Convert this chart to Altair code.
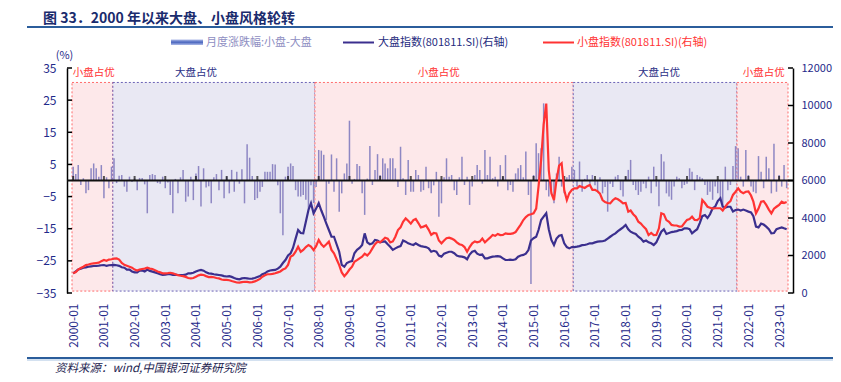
import altair as alt
import pandas as pd

# ---------------- data ----------------
months = [f"{y}-{m:02d}" for y in range(2000, 2024) for m in range(1, 13)][:280]

# 月度涨跌幅:小盘-大盘 (%)
spread = [
    4.3, 2.0, 4.8, -1.4, 0.7, -4.0, -3.0, 3.8, 5.3, 3.8, 1.2, 4.8,          # 2000
    -5.5, 1.0, -2.4, 4.3, 6.9, -0.8, 1.5, 1.7, -1.9, -3.5, 1.2, -0.5,       # 2001
    0.6, -3.0, 0.8, 0.8, -1.2, -10.2, 1.7, 2.0, 1.7, -0.8, -1.0, 1.2,       # 2002
    -2.4, -0.6, -4.5, -10.2, 0.5, -4.0, 1.0, 3.3, -6.6, -5.0, 1.2, -6.1,    # 2003
    2.2, 4.5, -8.1, 3.8, -2.2, -1.8, -7.1, 1.0, 2.0, -3.0, 3.3, -5.5,       # 2004
    1.2, -4.0, 3.3, -3.5, 2.7, -1.0, 3.5, -7.1, 11.3, 7.1, 1.4, -6.1,       # 2005
    -5.5, -3.5, -2.0, 2.7, 2.7, 2.7, 5.1, 5.0, -1.5, -10.2, -17.0, 1.2,     # 2006
    4.3, 5.3, 4.5, -3.0, -5.0, -5.0, -4.5, -6.0, -9.0, -1.5, -7.0, -2.0,    # 2007
    9.5, 9.3, 8.0, -12.3, -1.0, 8.1, -3.5, 6.9, -9.7, -4.0, 2.2, 5.3,       # 2008
    18.6, -1.0, 0.5, 5.1, 4.5, -4.0, -10.7, 0.6, 10.7, -1.4, 3.3, 8.2,      # 2009
    1.7, 6.9, 5.3, 3.8, 6.9, 6.9, 3.8, -2.0, 10.5, 0.7, -4.5, 6.4,          # 2010
    -3.5, -3.5, 3.3, 1.7, -3.5, -3.0, 4.3, -2.4, -4.0, -1.5, 2.7, -11.3,    # 2011
    -7.1, 1.0, 6.9, 1.2, 1.7, -3.0, -4.5, 1.0, 7.4, -1.4, 1.2, -7.6,        # 2012
    -1.9, 1.7, 4.8, 3.3, -1.0, 9.5, 1.7, 7.4, 0.7, 1.2, -1.9, 4.8,          # 2013
    1.2, 7.9, -3.0, -1.4, -3.5, 2.2, 3.8, 4.8, 1.0, 9.0, -4.5, -32.2,       # 2014
    1.7, 11.6, 8.5, 10.0, 24.0, -3.0, -5.0, -3.0, -7.1, 2.2, 7.4, -1.9,     # 2015
    -4.0, 1.0, 1.7, 4.3, 3.3, -1.9, 5.9, -3.5, 0.5, 1.7, -1.0, 1.7,         # 2016
    -1.5, -3.5, 1.0, -4.0, -2.0, -9.7, -1.0, -2.0, 1.2, 1.7, -3.0, -5.0,    # 2017
    1.2, 3.3, 6.4, -1.4, -3.0, -4.5, -3.5, -1.0, -2.4, 1.2, -4.0, 4.3,      # 2018
    -1.9, -8.0, 8.2, 5.9, -4.0, -5.0, -6.0, -1.9, 1.2, 0.7, -2.4, -1.4,     # 2019
    -1.0, 3.8, 2.7, -3.0, 1.7, 1.2, 0.7, -1.4, -4.5, -3.5, -6.0, -1.9,      # 2020
    -4.0, -5.6, -8.1, 4.3, -3.0, -1.4, 4.5, 10.7, 10.0, 1.2, -1.9, 9.5,     # 2021
    1.7, -1.9, -3.5, -4.0, 7.6, 2.7, -2.4, 7.4, 3.8, -4.0, 11.4, -3.5,      # 2022
    1.7, -1.9, 4.8, -2.4,                                                   # 2023
]

# 大盘指数(右轴)
large_index = [
    1050, 1150, 1250, 1300, 1350, 1370, 1400, 1420, 1440, 1450, 1460, 1480,
    1490, 1450, 1480, 1490, 1500, 1480, 1450, 1370, 1350, 1250, 1250, 1150,
    1100, 1100, 1190, 1200, 1150, 1250, 1180, 1140, 1100, 1050, 1000, 960,
    980, 1000, 1000, 970, 980, 960, 960, 950, 980, 1050, 1050, 1080,
    1150, 1200, 1230, 1190, 1100, 1050, 1030, 1000, 980, 960, 940, 900,
    880, 900, 860, 800, 750, 730, 780, 800, 780, 760, 770, 800,
    850, 900, 1000, 1050, 1150, 1200, 1220, 1230, 1300, 1400, 1600, 1760,
    2000, 2120, 2400, 2900, 3360, 3200, 3180, 3800, 4430, 4790, 4250, 4500,
    4790, 4400, 4070, 3700, 3360, 3000, 3000, 2600, 2200, 1500, 1400, 1600,
    1670, 1700, 2120, 2300, 2400, 2560, 3180, 2700, 2600, 2650, 2830, 2800,
    2700, 2740, 2750, 2600, 2470, 2300, 2380, 2450, 2500, 2800, 2740, 2650,
    2600, 2560, 2650, 2560, 2500, 2470, 2450, 2380, 2200, 2250, 2200, 2000,
    1940, 2100, 2150, 2200, 2200, 2120, 2000, 1950, 1940, 1900, 1800, 2050,
    2200, 2250, 2100, 2030, 2050, 1850, 1850, 1900, 1940, 1950, 1970, 1940,
    1850, 1760, 1760, 1780, 1760, 1800, 1940, 2000, 2030, 2100, 2290, 2800,
    2920, 3000, 3360, 3890, 4070, 4250, 3400, 2830, 2560, 2900, 3050, 3090,
    2650, 2450, 2380, 2450, 2450, 2470, 2500, 2550, 2560, 2600, 2650, 2650,
    2700, 2740, 2750, 2760, 2800, 2900, 3000, 3100, 3180, 3300, 3400, 3500,
    3630, 3400, 3270, 3200, 3150, 3000, 2900, 2740, 2800, 2700, 2650, 2560,
    2700, 3000, 3270, 3400, 3150, 3200, 3250, 3270, 3300, 3350, 3360, 3450,
    3450, 3400, 3180, 3300, 3400, 3730, 4100, 4160, 4000, 4200, 4520, 4600,
    4900, 5050, 4600, 4550, 4600, 4600, 4350, 4430, 4450, 4400, 4450, 4400,
    4340, 4300, 4100, 3540, 3500, 3700, 3650, 3540, 3400, 3180, 3200, 3400,
    3450, 3500, 3450, 3400,
]

# 小盘指数(右轴)
small_index = [
    1050, 1120, 1250, 1330, 1400, 1490, 1520, 1560, 1580, 1600, 1620, 1700,
    1760, 1720, 1780, 1800, 1830, 1850, 1780, 1600, 1500, 1450, 1400, 1350,
    1250, 1200, 1250, 1280, 1300, 1350, 1300, 1280, 1220, 1150, 1100, 1050,
    1050, 1060, 1080, 1050, 1000, 950, 920, 900, 860, 800, 780, 800,
    870, 940, 980, 960, 900, 850, 860, 840, 800, 780, 720, 700,
    700, 680, 640, 600, 560, 550, 580, 600, 590, 570, 580, 620,
    680, 750, 870, 950, 1000, 1000, 1020, 1050, 1100, 1150, 1250, 1310,
    1500, 1940, 2000, 2200, 2470, 2200, 2300, 2450, 2560, 2470, 2290, 2500,
    2830, 2600, 2470, 2600, 2740, 2300, 2120, 1800, 1490, 1100, 900, 1050,
    1250, 1400, 1670, 1750, 1850, 1940, 2100, 2000, 2150, 2380, 2600, 2740,
    2700, 2830, 2950, 2900, 2700, 2750, 3000, 3360, 3500, 3800, 3980, 3850,
    3700, 3890, 3950, 3730, 3500, 3540, 3600, 3380, 3100, 3200, 3180, 2800,
    2650, 2800, 2920, 2950, 2900, 2830, 2700, 2600, 2560, 2450, 2200, 2450,
    2650, 2750, 2700, 2740, 2900, 2700, 2830, 2950, 3090, 3050, 3150, 3090,
    3100, 3180, 3150, 3150, 3180, 3250, 3450, 3650, 3890, 4050, 4160, 4200,
    4250, 4500, 5670, 7090, 9000, 10100, 6560, 5320, 4960, 6030, 6800, 6920,
    5490, 4960, 5320, 5500, 5580, 5580, 5700, 5650, 5600, 5700, 5760, 5500,
    5500, 5420, 5300, 4960, 4850, 4800, 4780, 4950, 5050, 5000, 4900, 4780,
    4800, 4340, 4400, 4200, 4070, 3800, 3700, 3540, 3400, 3090, 3200, 3090,
    3100, 3450, 4250, 4200, 3890, 3800, 3630, 3600, 3600, 3540, 3550, 3730,
    3900, 3950, 4070, 3900, 3890, 4000, 4960, 4800, 4600, 4550, 4500, 4520,
    4520, 4520, 4400, 4600, 4780, 4900, 5230, 5400, 5580, 5400, 5320, 5400,
    5420, 5200, 4870, 4250, 4500, 4870, 4900, 4700, 4450, 4250, 4500, 4600,
    4700, 4870, 4800, 4850,
]

region_start = ["2000-01", "2001-05", "2007-12", "2016-05", "2021-09"]
region_end = ["2001-05", "2007-12", "2016-05", "2021-09", "2023-05"]
region_name = ["小盘占优", "大盘占优", "小盘占优", "大盘占优", "小盘占优"]
region_label_month = ["2000-09", "2004-01", "2011-12", "2019-02", "2022-07"]

left_ticks = [-35, -25, -15, -5, 5, 15, 25, 35]
right_ticks = [0, 2000, 4000, 6000, 8000, 10000, 12000]
year_labels = [f"{y}-01" for y in range(2000, 2024)]

# ---------------- tables ----------------
mid = pd.Timedelta(days=14)
df = pd.DataFrame({
    "date": pd.to_datetime(months) + mid,
    "spread": spread,
    "large": large_index,
    "small": small_index,
})
df_reg = pd.DataFrame({
    "start": pd.to_datetime(region_start),
    "end": pd.to_datetime(region_end),
    "name": region_name,
})
df_lab = pd.DataFrame({"at": pd.to_datetime(region_label_month) + mid, "name": region_name})
df_years = pd.DataFrame({"date": pd.to_datetime(year_labels) + mid, "v": 0})
df_lt = pd.DataFrame({"v": left_ticks})
df_rt = pd.DataFrame({"v": right_ticks})
one = pd.DataFrame({"k": [0]})

# ---------------- styles ----------------
W, H = 726, 225
PAD_R = 40
FONT = "Noto Sans CJK SC"
AXIS_BLUE = "#1F2A8A"
RED = "#FF3333"
NAVY = "#3B2F8E"
BAR = "#8E87C3"

x_scale = alt.Scale(domain=[alt.DateTime(year=2000, month=1, date=1),
                            alt.DateTime(year=2023, month=5, date=1)], nice=False)
x_axis = alt.Axis(values=[alt.DateTime(year=int(s[:4]), month=1, date=15) for s in year_labels],
                  format="%Y-%m", labelAngle=270, labelAlign="right", labelBaseline="middle",
                  labelPadding=10, ticks=False, tickSize=0, domain=False, grid=False,
                  labelColor=AXIS_BLUE, labelFontSize=12, labelFlush=False, labelOverlap=False,
                  title=None)
l_scale = alt.Scale(domain=[-35, 35], nice=False)
l_axis = alt.Axis(values=left_ticks, title=None, grid=False, ticks=False, tickSize=0,
                  domainColor="#000000", domainWidth=1.5, labelColor=AXIS_BLUE,
                  labelFontSize=12, labelPadding=11)
r_scale = alt.Scale(domain=[0, 12000], nice=False)
r_axis = alt.Axis(orient="right", values=right_ticks, format="d", title=None, grid=False,
                  ticks=False, tickSize=0, domainColor="#000000", domainWidth=1.5,
                  labelColor=AXIS_BLUE, labelFontSize=11, labelPadding=8)


def X(field):
    return alt.X(field, scale=x_scale, axis=x_axis)


def YL(field):
    return alt.Y(field, scale=l_scale, axis=l_axis)


def YR(field):
    return alt.Y(field, scale=r_scale, axis=r_axis)


name_dom = ["小盘占优", "大盘占优"]

regions = alt.Chart(df_reg).mark_rect(strokeDash=[2, 2], strokeWidth=1).encode(
    x=X("start:T"), x2="end:T",
    y=alt.Y(datum=30.5, scale=l_scale, axis=l_axis), y2=alt.Y2(datum=-34.4),
    fill=alt.Fill("name:N", scale=alt.Scale(domain=name_dom, range=["#FDE8EA", "#E9E8F3"]), legend=None),
    stroke=alt.Stroke("name:N", scale=alt.Scale(domain=name_dom, range=["#FF6B6B", "#6A62B5"]), legend=None),
)

region_text = alt.Chart(df_lab).mark_text(fontSize=10.5, baseline="middle", align="center").encode(
    x=X("at:T"), y=alt.value(5), text="name:N",
    color=alt.Color("name:N", scale=alt.Scale(domain=name_dom, range=[RED, "#2B2F86"]), legend=None),
)

bars = alt.Chart(df).mark_bar(size=1.5, color=BAR).encode(
    x=X("date:T"), y=YL("spread:Q"), y2=alt.Y2(datum=0),
)

zero = alt.Chart(df_years.head(1)).mark_rule(color="#111111", strokeWidth=2).encode(y=YL("v:Q"))
zero_ticks = alt.Chart(df_years).mark_tick(orient="vertical", size=5, thickness=2,
                                           color="#111111", yOffset=-2).encode(
    x=X("date:T"), y=YL("v:Q"))

lticks = alt.Chart(df_lt).mark_rule(color="#000000", strokeWidth=1.5).encode(
    y=YL("v:Q"), x=alt.value(0), x2=alt.value(5))


def txt(text, x, y, size, color, **kw):
    return alt.Chart(one).mark_text(text=text, fontSize=size, color=color, align="left",
                                    baseline="middle", **kw).encode(x=alt.value(x), y=alt.value(y))


title = txt("图 33．2000 年以来大盘、小盘风格轮转", -24, -49.5, 14, "#1A2B6D", fontWeight="bold")
head_rule = alt.Chart(one).mark_rule(color="#2B5D9B", strokeWidth=2).encode(
    x=alt.value(-40), x2=alt.value(W + PAD_R), y=alt.value(-41))
foot_rule = alt.Chart(one).mark_rule(color="#2B5D9B", strokeWidth=2).encode(
    x=alt.value(-40), x2=alt.value(W + PAD_R), y=alt.value(290))
foot_rule2 = alt.Chart(one).mark_rule(color="#A9C4E2", strokeWidth=1).encode(
    x=alt.value(-40), x2=alt.value(W + PAD_R), y=alt.value(292))
source = txt("资料来源：wind,中国银河证券研究院", -12, 301, 11.5, "#1E2450", fontStyle="italic")
pct = alt.Chart(one).mark_text(text="(%)", fontSize=11, color=AXIS_BLUE, align="center",
                               baseline="middle").encode(x=alt.value(-2.5), y=alt.value(-12))

grad = alt.LinearGradient(gradient="linear", x1=0, x2=0, y1=0, y2=1,
                          stops=[alt.GradientStop(offset=0, color="#AEBBE8"),
                                 alt.GradientStop(offset=0.5, color="#4A66BF"),
                                 alt.GradientStop(offset=1, color="#AEBBE8")])
leg_bar = alt.Chart(one).mark_rect(color=grad).encode(
    x=alt.value(104), x2=alt.value(136), y=alt.value(-28.5), y2=alt.value(-23))
leg_t1 = txt("月度涨跌幅:小盘-大盘", 139, -25.5, 11, "#8E8EC2")
leg_l2 = alt.Chart(one).mark_rule(color=NAVY, strokeWidth=2).encode(
    x=alt.value(276), x2=alt.value(307), y=alt.value(-25.5))
leg_t2 = txt("大盘指数(801811.SI)(右轴)", 311, -25.5, 11, "#262C7E")
leg_l3 = alt.Chart(one).mark_rule(color=RED, strokeWidth=2).encode(
    x=alt.value(476), x2=alt.value(507), y=alt.value(-25.5))
leg_t3 = txt("小盘指数(801811.SI)(右轴)", 510, -25.5, 11, RED)

left = alt.layer(regions, bars, zero, zero_ticks, lticks, region_text,
                 title, head_rule, foot_rule, foot_rule2, source, pct,
                 leg_bar, leg_t1, leg_l2, leg_t2, leg_l3, leg_t3)

line_large = alt.Chart(df).mark_line(color=NAVY, strokeWidth=2.2).encode(x=X("date:T"), y=YR("large:Q"))
line_small = alt.Chart(df).mark_line(color=RED, strokeWidth=2.2).encode(x=X("date:T"), y=YR("small:Q"))
rticks = alt.Chart(df_rt).mark_rule(color="#000000", strokeWidth=1.5).encode(
    y=YR("v:Q"), x=alt.value(W - 5), x2=alt.value(W))

right = alt.layer(line_large, line_small, rticks)

chart = alt.layer(left, right).resolve_scale(y="independent").properties(
    width=W, height=H,
    padding={"left": 59, "top": 60, "right": PAD_R, "bottom": 81},
    autosize=alt.AutoSizeParams(type="none"),
).configure(font=FONT).configure_view(stroke=None)

chart.save("out.html", embed_options={"renderer": "svg", "actions": False})
